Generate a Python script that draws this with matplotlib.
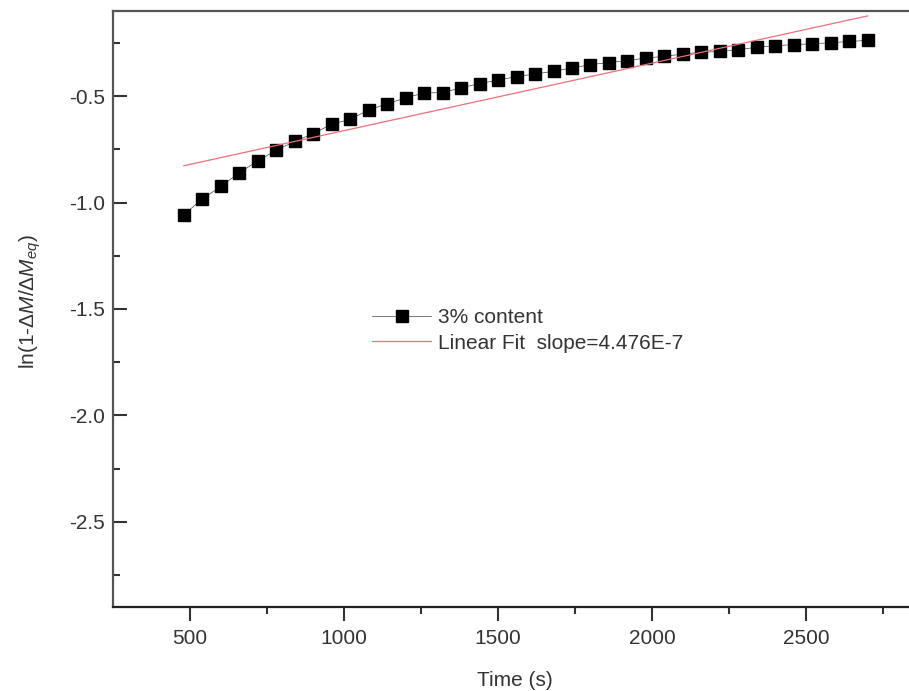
import matplotlib
matplotlib.use("Agg")
import matplotlib.pyplot as plt

plt.rcParams['font.family'] = ['Liberation Sans', 'DejaVu Sans']
plt.rcParams['mathtext.fontset'] = 'custom'
plt.rcParams['mathtext.rm'] = 'Liberation Sans'
plt.rcParams['mathtext.it'] = 'Liberation Sans:italic'
plt.rcParams['axes.unicode_minus'] = False

# measured points, 3% content
time_s = [480, 540, 600, 660, 720, 780, 840, 900, 960, 1020,
          1080, 1140, 1200, 1260, 1320, 1380, 1440, 1500, 1560, 1620,
          1680, 1740, 1800, 1860, 1920, 1980, 2040, 2100, 2160, 2220,
          2280, 2340, 2400, 2460, 2520, 2580, 2640, 2700]
ln_ratio = [-1.057, -0.983, -0.924, -0.860, -0.804, -0.754, -0.713, -0.676, -0.632, -0.609,
            -0.565, -0.536, -0.508, -0.485, -0.483, -0.461, -0.441, -0.425, -0.408, -0.396,
            -0.383, -0.368, -0.352, -0.342, -0.333, -0.321, -0.313, -0.302, -0.294, -0.290,
            -0.282, -0.270, -0.263, -0.258, -0.254, -0.249, -0.243, -0.238]

# linear fit end points
fit_t = [480, 2700]
fit_y = [-0.827, -0.123]

fig = plt.figure(figsize=(9.09, 6.91), dpi=100)
ax = fig.add_axes([113/909, 84/691, 804/909, 596/691])

ax.plot(time_s, ln_ratio, color='#444444', lw=0.5, marker='s', markersize=8,
        markeredgecolor='black', markerfacecolor='black', label='3% content')
ax.plot(fit_t, fit_y, color='#e8707a', lw=0.9, label='Linear Fit  slope=4.476E-7')

ax.set_xlim(250, 2860)
ax.set_ylim(-2.9, -0.1)
ax.set_xticks([500, 1000, 1500, 2000, 2500])
ax.set_xticks([750, 1250, 1750, 2250, 2750], minor=True)
ax.set_yticks([-2.5, -2.0, -1.5, -1.0, -0.5])
ax.set_yticks([-2.75, -2.25, -1.75, -1.25, -0.75, -0.25], minor=True)

ax.tick_params(axis='y', which='major', direction='in', length=10, width=1.5,
               labelsize=15, colors='#333333', pad=6)
ax.tick_params(axis='y', which='minor', direction='in', length=5, width=1.5, colors='#333333')
ax.tick_params(axis='x', which='major', direction='out', length=10, width=1.5,
               labelsize=15, colors='#333333', pad=6)
ax.tick_params(axis='x', which='minor', direction='out', length=5, width=1.5, colors='#333333')

for side in ['left', 'top']:
    ax.spines[side].set_color('#555555')
    ax.spines[side].set_linewidth(1.6)
ax.spines['bottom'].set_color('#222222')
ax.spines['bottom'].set_linewidth(1.6)
ax.spines['right'].set_visible(False)

ax.set_xlabel('Time (s)', fontsize=15, color='#333333')
ax.xaxis.set_label_coords(0.5, -(681 - 607) / 596)
ax.xaxis.label.set_va('center')
ax.set_ylabel(r'ln(1-$\Delta\it{M}$/$\Delta\it{M}_{eq}$)', fontsize=15, color='#333333')
ax.yaxis.set_label_coords(-(113 - 30) / 804, (607 - 302) / 596)
ax.yaxis.label.set_va('center')

ax.legend(loc='upper left', bbox_to_anchor=(362/909, 1 - 298/691), bbox_transform=fig.transFigure,
          frameon=False, fontsize=15, handlelength=2.8, handletextpad=0.35,
          labelspacing=0.3, borderpad=0, labelcolor='#333333')

fig.savefig('out.png', dpi=100)
